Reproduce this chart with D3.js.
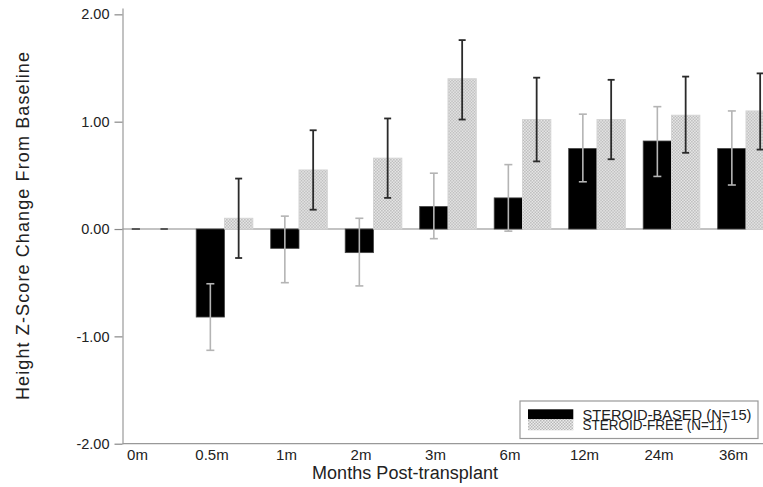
<!DOCTYPE html>
<html>
<head>
<meta charset="utf-8">
<script src="https://cdn.jsdelivr.net/npm/d3@7"></script>
<style>
  html, body { margin: 0; padding: 0; background: #fff; }
  svg { display: block; font-family: "Liberation Sans", Arial, sans-serif; }
</style>
</head>
<body>
<svg id="chart" width="763" height="487"></svg>
<script>
// ---- data ----
const categories = ["0m", "0.5m", "1m", "2m", "3m", "6m", "12m", "24m", "36m"];
const seriesNames = ["STEROID-BASED (N=15)", "STEROID-FREE (N=11)"];
const basedMean = [0, -0.82, -0.18, -0.22, 0.21, 0.29, 0.75, 0.82, 0.75];
const basedLow  = [0, -1.13, -0.50, -0.53, -0.09, -0.02, 0.44, 0.49, 0.41];
const basedHigh = [0, -0.51, 0.12, 0.10, 0.52, 0.60, 1.07, 1.14, 1.10];
const freeMean  = [0, 0.10, 0.55, 0.66, 1.40, 1.02, 1.02, 1.06, 1.10];
const freeLow   = [0, -0.27, 0.18, 0.29, 1.02, 0.63, 0.65, 0.71, 0.74];
const freeHigh  = [0, 0.47, 0.92, 1.03, 1.76, 1.41, 1.39, 1.42, 1.45];
const yTicks = [2, 1, 0, -1, -2];
const yTickLabels = ["2.00", "1.00", "0.00", "-1.00", "-2.00"];

// ---- setup ----
const svg = d3.select("#chart");
const W = 763;

const defs = svg.append("defs");
const pat = defs.append("pattern").attr("id", "checker")
  .attr("patternUnits", "userSpaceOnUse").attr("width", 3).attr("height", 3);
pat.append("rect").attr("width", 3).attr("height", 3).attr("fill", "#ececec");
pat.append("rect").attr("width", 1.5).attr("height", 1.5).attr("fill", "#b8b8b8");
pat.append("rect").attr("x", 1.5).attr("y", 1.5).attr("width", 1.5).attr("height", 1.5).attr("fill", "#b8b8b8");

const y = d3.scaleLinear().domain([-2, 2.06]).range([443.7, 7.9]);
const x = d3.scaleBand().domain(categories).range([112.75, 783.25])
  .paddingInner(0.24).paddingOuter(0.12);
const x1 = d3.scaleBand().domain(["based", "free"]).range([0, x.bandwidth()]);

const data = categories.map((c, i) => ({
  cat: c,
  based: { mean: basedMean[i], lo: basedLow[i], hi: basedHigh[i] },
  free: { mean: freeMean[i], lo: freeLow[i], hi: freeHigh[i] }
}));

// zero reference line
svg.append("line")
  .attr("x1", 122.5).attr("x2", W)
  .attr("y1", y(0)).attr("y2", y(0))
  .attr("stroke", "#888").attr("stroke-width", 1.1);

// bars
const groups = svg.append("g").selectAll("g").data(data).join("g")
  .attr("transform", d => `translate(${x(d.cat)},0)`);

groups.append("rect")
  .attr("x", x1("based")).attr("width", x1.bandwidth())
  .attr("y", d => Math.min(y(d.based.mean), y(0)))
  .attr("height", d => Math.abs(y(d.based.mean) - y(0)))
  .attr("fill", "#000").attr("stroke", "#444").attr("stroke-width", 0.8);

groups.append("rect")
  .attr("x", x1("free")).attr("width", x1.bandwidth())
  .attr("y", d => Math.min(y(d.free.mean), y(0)))
  .attr("height", d => Math.abs(y(d.free.mean) - y(0)))
  .attr("fill", "url(#checker)").attr("stroke", "#d4d4d4").attr("stroke-width", 1);

// error bars (zero-width intervals drawn as a short dark dash)
function errorBars(key, color, width, cap) {
  const g = groups.append("g");
  const cx = x1(key) + x1.bandwidth() / 2;
  const col = d => (d[key].hi - d[key].lo === 0 ? "#555" : color);
  g.append("line").attr("x1", cx).attr("x2", cx)
    .attr("y1", d => y(d[key].lo)).attr("y2", d => y(d[key].hi))
    .attr("stroke", col).attr("stroke-width", width);
  g.append("line").attr("x1", cx - cap / 2).attr("x2", cx + cap / 2)
    .attr("y1", d => y(d[key].lo)).attr("y2", d => y(d[key].lo))
    .attr("stroke", col).attr("stroke-width", width);
  g.append("line").attr("x1", cx - cap / 2).attr("x2", cx + cap / 2)
    .attr("y1", d => y(d[key].hi)).attr("y2", d => y(d[key].hi))
    .attr("stroke", col).attr("stroke-width", width);
}
errorBars("based", "#b4b4b4", 1.6, 8);
errorBars("free", "#2a2a2a", 1.8, 7);

// y axis
const yAxis = svg.append("g").attr("transform", "translate(122.5,0)")
  .call(d3.axisLeft(y).tickValues(yTicks).tickFormat((d, i) => yTickLabels[i])
    .tickSize(8).tickSizeOuter(0).tickPadding(5));
yAxis.select(".domain").attr("stroke", "#999").attr("stroke-width", 1.2);
yAxis.selectAll(".tick line").attr("stroke", "#888").attr("stroke-width", 1.2);
yAxis.selectAll(".tick text").attr("font-size", 14.5).attr("fill", "#222")
  .attr("font-family", "Liberation Sans, Arial, sans-serif");

// x axis
const xAxis = svg.append("g").attr("transform", `translate(0,${y(-2)})`)
  .call(d3.axisBottom(x).tickSize(0).tickPadding(5.6));
xAxis.select(".domain").remove();
xAxis.selectAll(".tick text").attr("font-size", 15).attr("fill", "#222")
  .attr("dx", -12.5).attr("font-family", "Liberation Sans, Arial, sans-serif");
svg.append("line")
  .attr("x1", 122.5).attr("x2", W)
  .attr("y1", y(-2)).attr("y2", y(-2))
  .attr("stroke", "#999").attr("stroke-width", 1.2);

// axis titles
svg.append("text").attr("x", 405).attr("y", 479)
  .attr("text-anchor", "middle").attr("font-size", 18).attr("fill", "#222")
  .attr("textLength", 186).attr("lengthAdjust", "spacing")
  .text("Months Post-transplant");
svg.append("text")
  .attr("transform", "translate(29,226) rotate(-90)")
  .attr("text-anchor", "middle").attr("font-size", 18).attr("fill", "#222")
  .attr("textLength", 348).attr("lengthAdjust", "spacing")
  .text("Height Z-Score Change From Baseline");

// legend
const leg = svg.append("g");
leg.append("rect").attr("x", 520).attr("y", 401).attr("width", 238).attr("height", 37.5)
  .attr("fill", "#fff").attr("stroke", "#999").attr("stroke-width", 1.2);
leg.append("rect").attr("x", 528).attr("y", 409.3).attr("width", 45.3).attr("height", 10)
  .attr("fill", "#000");
leg.append("rect").attr("x", 528).attr("y", 419.3).attr("width", 45.3).attr("height", 11)
  .attr("fill", "url(#checker)");
leg.selectAll("text.leg").data(seriesNames).join("text").attr("class", "leg")
  .attr("x", 582.5).attr("y", (d, i) => 419.5 + i * 10.7)
  .attr("font-size", 14.5).attr("fill", "#222")
  .attr("textLength", (d, i) => (i === 0 ? 169 : 145)).attr("lengthAdjust", "spacingAndGlyphs")
  .text(d => d);
</script>
</body>
</html>
